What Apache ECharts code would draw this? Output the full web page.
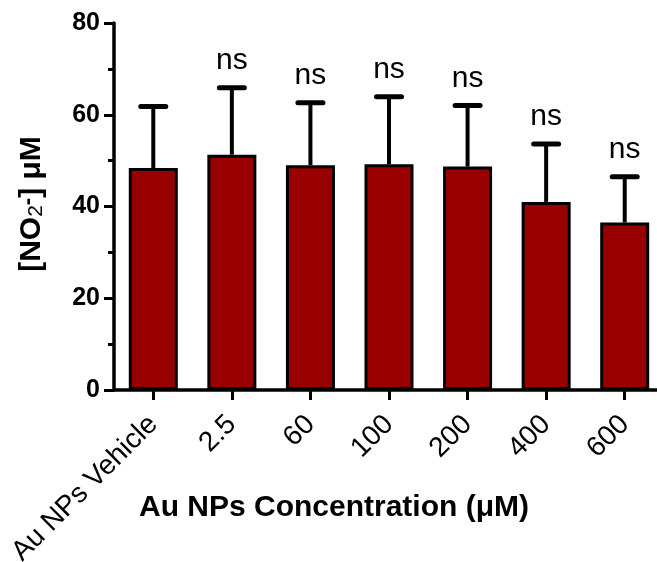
<!DOCTYPE html>
<html>
<head>
<meta charset="utf-8">
<script src="https://cdn.jsdelivr.net/npm/echarts@6/dist/echarts.min.js"></script>
<style>
  html, body { margin: 0; padding: 0; background: #fff; }
  #chart { width: 657px; height: 562px; }
</style>
</head>
<body>
<div id="chart"></div>
<script>
// values
const categories = ['Au NPs Vehicle', '2.5', '60', '100', '200', '400', '600']
const means = [48.4, 51.3, 49.0, 49.2, 48.7, 41.0, 36.5]
const errors = [13.4, 14.6, 13.6, 14.7, 13.3, 12.6, 10.0]
const sigLabels = ['', 'ns', 'ns', 'ns', 'ns', 'ns', 'ns']
const yTicks = [0, 20, 40, 60, 80]

const FONT = 'Liberation Sans, Arial, Helvetica, sans-serif'

let chart = echarts.init(document.getElementById('chart'), null, {renderer: 'canvas'})

let errData = []
categories.forEach((c, i) => {
    errData.push([i, means[i], means[i] + errors[i]])
})

function renderErr(params, api) {
    let i = api.value(0)
    let top = api.coord([i, api.value(1)])
    let cap = api.coord([i, api.value(2)])
    let half = 12.5
    return {
        type: 'group',
        children: [
            {
                type: 'line',
                shape: {x1: top[0], y1: top[1], x2: cap[0], y2: cap[1]},
                style: {stroke: '#000', lineWidth: 4}
            },
            {
                type: 'line',
                shape: {x1: cap[0] - half, y1: cap[1], x2: cap[0] + half, y2: cap[1]},
                style: {stroke: '#000', lineWidth: 5, lineCap: 'round'}
            },
            {
                type: 'text',
                x: cap[0],
                y: cap[1] - 12,
                style: {
                    text: sigLabels[i],
                    fontFamily: FONT,
                    fontSize: 30,
                    fill: '#000',
                    align: 'center',
                    verticalAlign: 'bottom'
                }
            }
        ]
    }
}

const option = {
    backgroundColor: '#fff',
    animation: false,
    grid: {
        left: 114,
        right: -7,
        top: 23,
        bottom: 172,
        containLabel: false,
        outerBoundsMode: 'none'
    },
    xAxis: {
        type: 'category',
        data: categories,
        axisLine: {show: true, lineStyle: {color: '#000', width: 3.5}},
        axisTick: {show: true, alignWithLabel: true, length: 10, lineStyle: {color: '#000', width: 3}},
        axisLabel: {
            interval: 0,
            rotate: 45,
            margin: 30,
            color: '#000',
            fontFamily: FONT,
            fontSize: 28
        },
        splitLine: {show: false}
    },
    yAxis: {
        type: 'value',
        min: yTicks[0],
        max: yTicks[yTicks.length - 1],
        interval: 20,
        axisLine: {show: true, lineStyle: {color: '#000', width: 3.5}},
        axisTick: {show: true, length: 10, lineStyle: {color: '#000', width: 3}},
        minorTick: {show: true, splitNumber: 2, length: 6, lineStyle: {color: '#000', width: 3}},
        axisLabel: {
            margin: 14,
            color: '#000',
            fontFamily: FONT,
            fontSize: 25,
            fontWeight: 'bold'
        },
        splitLine: {show: false},
        minorSplitLine: {show: false}
    },
    series: [
        {
            type: 'bar',
            data: means,
            barWidth: 49,
            itemStyle: {color: '#990000', borderColor: '#000', borderWidth: 3}
        },
        {
            type: 'custom',
            data: errData,
            renderItem: renderErr,
            encode: {x: 0, y: [1, 2]},
            z: 5
        }
    ],
    graphic: [
        {
            type: 'text',
            x: 32,
            y: 204,
            rotation: Math.PI / 2,
            style: {
                text: '[NO{sub|2}{sup|-}] μM',
                fontFamily: FONT,
                fontSize: 30,
                fontWeight: 'bold',
                fill: '#000',
                align: 'center',
                verticalAlign: 'middle',
                rich: {
                    sub: {fontFamily: FONT, fontSize: 21, fontWeight: 'normal', lineHeight: 18, verticalAlign: 'bottom'},
                    sup: {fontFamily: FONT, fontSize: 22, fontWeight: 'bold', lineHeight: 18, verticalAlign: 'top'}
                }
            }
        },
        {
            type: 'text',
            x: 334,
            y: 508,
            style: {
                text: 'Au NPs Concentration (μM)',
                fontFamily: FONT,
                fontSize: 30,
                fontWeight: 'bold',
                fill: '#000',
                align: 'center',
                verticalAlign: 'middle'
            }
        }
    ]
}

chart.setOption(option)
</script>
</body>
</html>
